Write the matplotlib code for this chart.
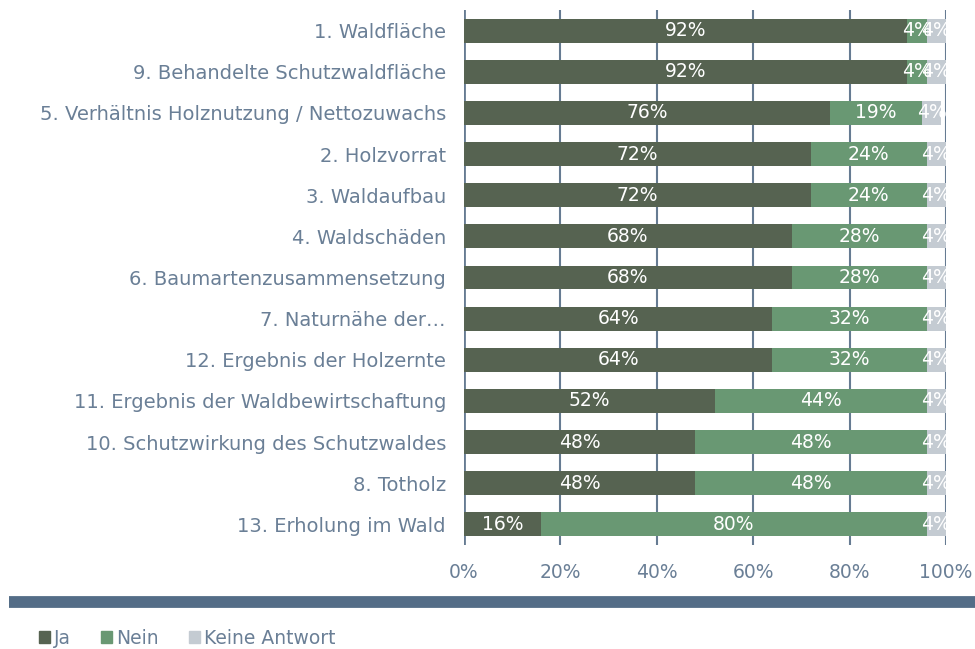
import matplotlib.pyplot as plt
from matplotlib.lines import Line2D
from matplotlib.patches import Patch
import numpy as np

# Indicators, top to bottom
categories = [
    "1. Waldfläche",
    "9. Behandelte Schutzwaldfläche",
    "5. Verhältnis Holznutzung / Nettozuwachs",
    "2. Holzvorrat",
    "3. Waldaufbau",
    "4. Waldschäden",
    "6. Baumartenzusammensetzung",
    "7. Naturnähe der…",
    "12. Ergebnis der Holzernte",
    "11. Ergebnis der Waldbewirtschaftung",
    "10. Schutzwirkung des Schutzwaldes",
    "8. Totholz",
    "13. Erholung im Wald",
]
ja = [92, 92, 76, 72, 72, 68, 68, 64, 64, 52, 48, 48, 16]
nein = [4, 4, 19, 24, 24, 28, 28, 32, 32, 44, 48, 48, 80]
keine = [4, 4, 4, 4, 4, 4, 4, 4, 4, 4, 4, 4, 4]
series_names = ["Ja", "Nein", "Keine Antwort"]
tick_vals = [0, 20, 40, 60, 80, 100]

colors = ["#566351", "#699873", "#c4cbd2"]
text_col = "#6a7f96"
grid_col = "#667b92"
fs = 13.5

plt.rcParams["font.family"] = ["DejaVu Sans"]

fig = plt.figure(figsize=(9.75, 6.49), dpi=100)
ax = fig.add_axes([464 / 975, 1 - 545 / 649, (946 - 464) / 975, 535 / 649])

y = np.arange(len(categories))
left = np.zeros(len(categories))
for vals, col in zip([ja, nein, keine], colors):
    vals = np.array(vals, dtype=float)
    ax.barh(y, vals, left=left, height=0.58, color=col, zorder=3)
    for yi, l, v in zip(y, left, vals):
        ax.text(l + v / 2, yi, f"{int(v)}%", ha="center", va="center",
                color="white", fontsize=fs, zorder=4, clip_on=True)
    left += vals

ax.set_xlim(0, 100)
ax.set_ylim(len(categories) - 0.5, -0.5)
ax.set_yticks(y)
ax.set_yticklabels(categories, fontsize=14, color=text_col)
ax.set_xticks(tick_vals)
ax.set_xticklabels([f"{t}%" for t in tick_vals], fontsize=fs, color=text_col)
ax.tick_params(length=0, pad=13)
ax.tick_params(axis="x", pad=13)
for t in tick_vals:
    ax.axvline(t, color=grid_col, lw=2 if t == 0 else 1.5, zorder=2)
for s in ax.spines.values():
    s.set_visible(False)

# separator band under the chart
fig.add_artist(Line2D([9 / 975, 1], [1 - 602 / 649] * 2, color="#546d87",
                      lw=8.5, solid_capstyle="butt", transform=fig.transFigure))

handles = [Patch(color=c) for c in colors]
fig.legend(handles, series_names, loc="center left", bbox_to_anchor=(22 / 975, 1 - 638 / 649),
           ncol=3, frameon=False, fontsize=fs, labelcolor=text_col,
           handlelength=0.6, handleheight=0.6, handletextpad=0.2, columnspacing=1.6)

fig.savefig("out.png", dpi=100)
